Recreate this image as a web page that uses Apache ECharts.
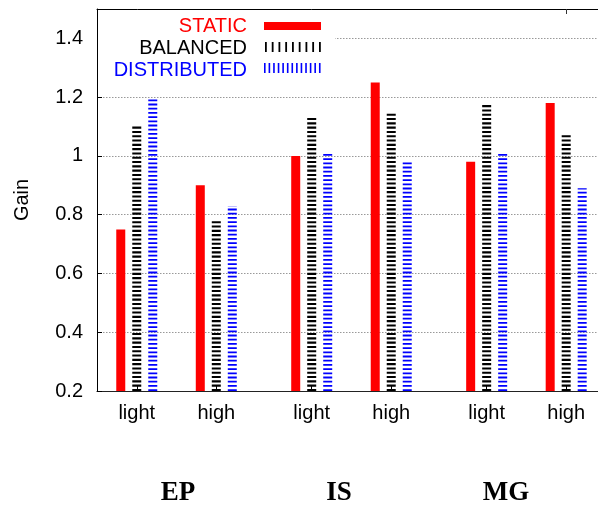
<!DOCTYPE html>
<html>
<head>
<meta charset="utf-8">
<script src="https://cdn.jsdelivr.net/npm/echarts@6/dist/echarts.min.js"></script>
<style>
  html, body { margin: 0; padding: 0; background: #fff; }
  #chart { width: 598px; height: 506px; }
</style>
</head>
<body>
<div id="chart"></div>
<script>
// Workloads and load levels
const groups = ['EP', 'IS', 'MG'];
const loads = ['light', 'high', 'light', 'high', 'light', 'high'];
// x position of each load cluster (clusters of the same workload sit closer together)
const loadPos = [0, 1, 2.2, 3.2, 4.4, 5.4];

// Gain per strategy, one value per load cluster
const staticGain = [0.75, 0.90, 1.00, 1.25, 0.98, 1.18];
const balancedGain = [1.10, 0.78, 1.13, 1.15, 1.18, 1.07];
const distributedGain = [1.20, 0.83, 1.01, 0.98, 1.015, 0.89];

// y-axis ticks
const yTicks = [0.2, 0.4, 0.6, 0.8, 1.0, 1.2, 1.4];
const Y_MIN = 0.2, Y_MAX = 1.5;

const FONT = '"Liberation Sans", Arial, Helvetica, sans-serif';
const SERIF = '"Liberation Serif", "Times New Roman", serif';
const BAR_W = 9;

const chart = echarts.init(document.getElementById('chart'), null, { renderer: 'canvas' });

function toPoints(values) {
  return values.map((v, i) => [loadPos[i], v]);
}

// Draws one bar per data item; solid fill or striped (dashed thick line)
function barRenderer(offsetPx, color, dash) {
  return function (params, api) {
    const top = api.coord([api.value(0), api.value(1)]);
    const base = api.coord([api.value(0), Y_MIN]);
    const cx = top[0] + offsetPx;
    if (!dash) {
      return {
        type: 'rect',
        shape: { x: cx - BAR_W / 2, y: top[1], width: BAR_W, height: base[1] - top[1] },
        style: { fill: color }
      };
    }
    return {
      type: 'line',
      shape: { x1: cx, y1: base[1], x2: cx, y2: top[1] },
      style: { stroke: color, lineWidth: BAR_W, lineDash: dash, lineCap: 'butt' }
    };
  };
}

const option = {
  animation: false,
  backgroundColor: '#fff',
  grid: { left: 97, right: 0, top: 9, bottom: 115, containLabel: false, outerBoundsMode: 'none' },
  xAxis: [
    {
      type: 'value',
      min: -0.5,
      max: 5.8,
      position: 'bottom',
      axisLine: { show: true, onZero: false, lineStyle: { color: '#222', width: 1.2 } },
      axisTick: {
        show: true, inside: true, length: 5,
        customValues: loadPos,
        lineStyle: { color: '#000', width: 1 }
      },
      axisLabel: {
        show: true,
        customValues: loadPos,
        margin: 12,
        fontFamily: FONT,
        fontSize: 20,
        color: '#000',
        formatter: function (v) {
          const i = loadPos.findIndex(p => Math.abs(p - v) < 1e-6);
          return i >= 0 ? loads[i] : '';
        }
      },
      splitLine: { show: false }
    },
    {
      type: 'value',
      min: -0.5,
      max: 5.8,
      position: 'top',
      axisLine: { show: true, onZero: false, lineStyle: { color: '#000', width: 1 } },
      axisTick: {
        show: true, inside: true, length: 5,
        customValues: [0, 2.2, 5.4],
        lineStyle: { color: '#333', width: 1 }
      },
      axisLabel: { show: false },
      splitLine: { show: false }
    }
  ],
  yAxis: {
    type: 'value',
    min: Y_MIN,
    max: Y_MAX,
    interval: 0.2,
    name: 'Gain',
    nameLocation: 'middle',
    nameRotate: 90,
    nameGap: 65,
    nameTextStyle: { fontFamily: FONT, fontSize: 20, color: '#000' },
    axisLine: { show: true, onZero: false, lineStyle: { color: '#000', width: 1 } },
    axisTick: {
      show: true, inside: true, length: 5,
      customValues: yTicks,
      lineStyle: { color: '#000' }
    },
    axisLabel: {
      customValues: yTicks,
      margin: 14,
      fontFamily: FONT,
      fontSize: 20,
      color: '#000'
    },
    splitLine: {
      show: true,
      lineStyle: { color: '#999', width: 1, type: [1.5, 1.5] }
    }
  },
  series: [
    {
      name: 'STATIC',
      type: 'custom',
      renderItem: barRenderer(-16, '#ff0000', null),
      encode: { x: 0, y: 1 },
      data: toPoints(staticGain),
      z: 3
    },
    {
      name: 'BALANCED',
      type: 'custom',
      renderItem: barRenderer(0, '#000000', [2.1, 2.2]),
      encode: { x: 0, y: 1 },
      data: toPoints(balancedGain),
      z: 3
    },
    {
      name: 'DISTRIBUTED',
      type: 'custom',
      renderItem: barRenderer(16, '#0000ff', [1.8, 2.4]),
      encode: { x: 0, y: 1 },
      data: toPoints(distributedGain),
      z: 3
    }
  ],
  graphic: [
    // key panel
    { type: 'rect', z: 50, shape: { x: 98, y: 10, width: 237, height: 74 }, style: { fill: '#fff' } },
    { type: 'text', z: 51, style: { text: 'STATIC', x: 247, y: 26, align: 'right', verticalAlign: 'middle', font: '20px ' + FONT, fill: '#ff0000' } },
    { type: 'text', z: 51, style: { text: 'BALANCED', x: 247, y: 48, align: 'right', verticalAlign: 'middle', font: '20px ' + FONT, fill: '#000' } },
    { type: 'text', z: 51, style: { text: 'DISTRIBUTED', x: 247, y: 70, align: 'right', verticalAlign: 'middle', font: '20px ' + FONT, fill: '#0000ff' } },
    { type: 'rect', z: 51, shape: { x: 264, y: 22, width: 57, height: 8 }, style: { fill: '#ff0000' } },
    { type: 'line', z: 51, shape: { x1: 265, y1: 47, x2: 321, y2: 47 }, style: { stroke: '#000', lineWidth: 10, lineDash: [1.8, 4.95] } },
    { type: 'line', z: 51, shape: { x1: 264, y1: 68, x2: 321, y2: 68 }, style: { stroke: '#0000ff', lineWidth: 10, lineDash: [1.6, 2.98] } },
    // workload labels
    { type: 'text', z: 51, style: { text: groups[0], x: 178, y: 493, align: 'center', verticalAlign: 'middle', font: 'bold 27px ' + SERIF, fill: '#000' } },
    { type: 'text', z: 51, style: { text: groups[1], x: 339, y: 493, align: 'center', verticalAlign: 'middle', font: 'bold 27px ' + SERIF, fill: '#000' } },
    { type: 'text', z: 51, style: { text: groups[2], x: 506, y: 493, align: 'center', verticalAlign: 'middle', font: 'bold 27px ' + SERIF, fill: '#000' } }
  ]
};

chart.setOption(option);
</script>
</body>
</html>
